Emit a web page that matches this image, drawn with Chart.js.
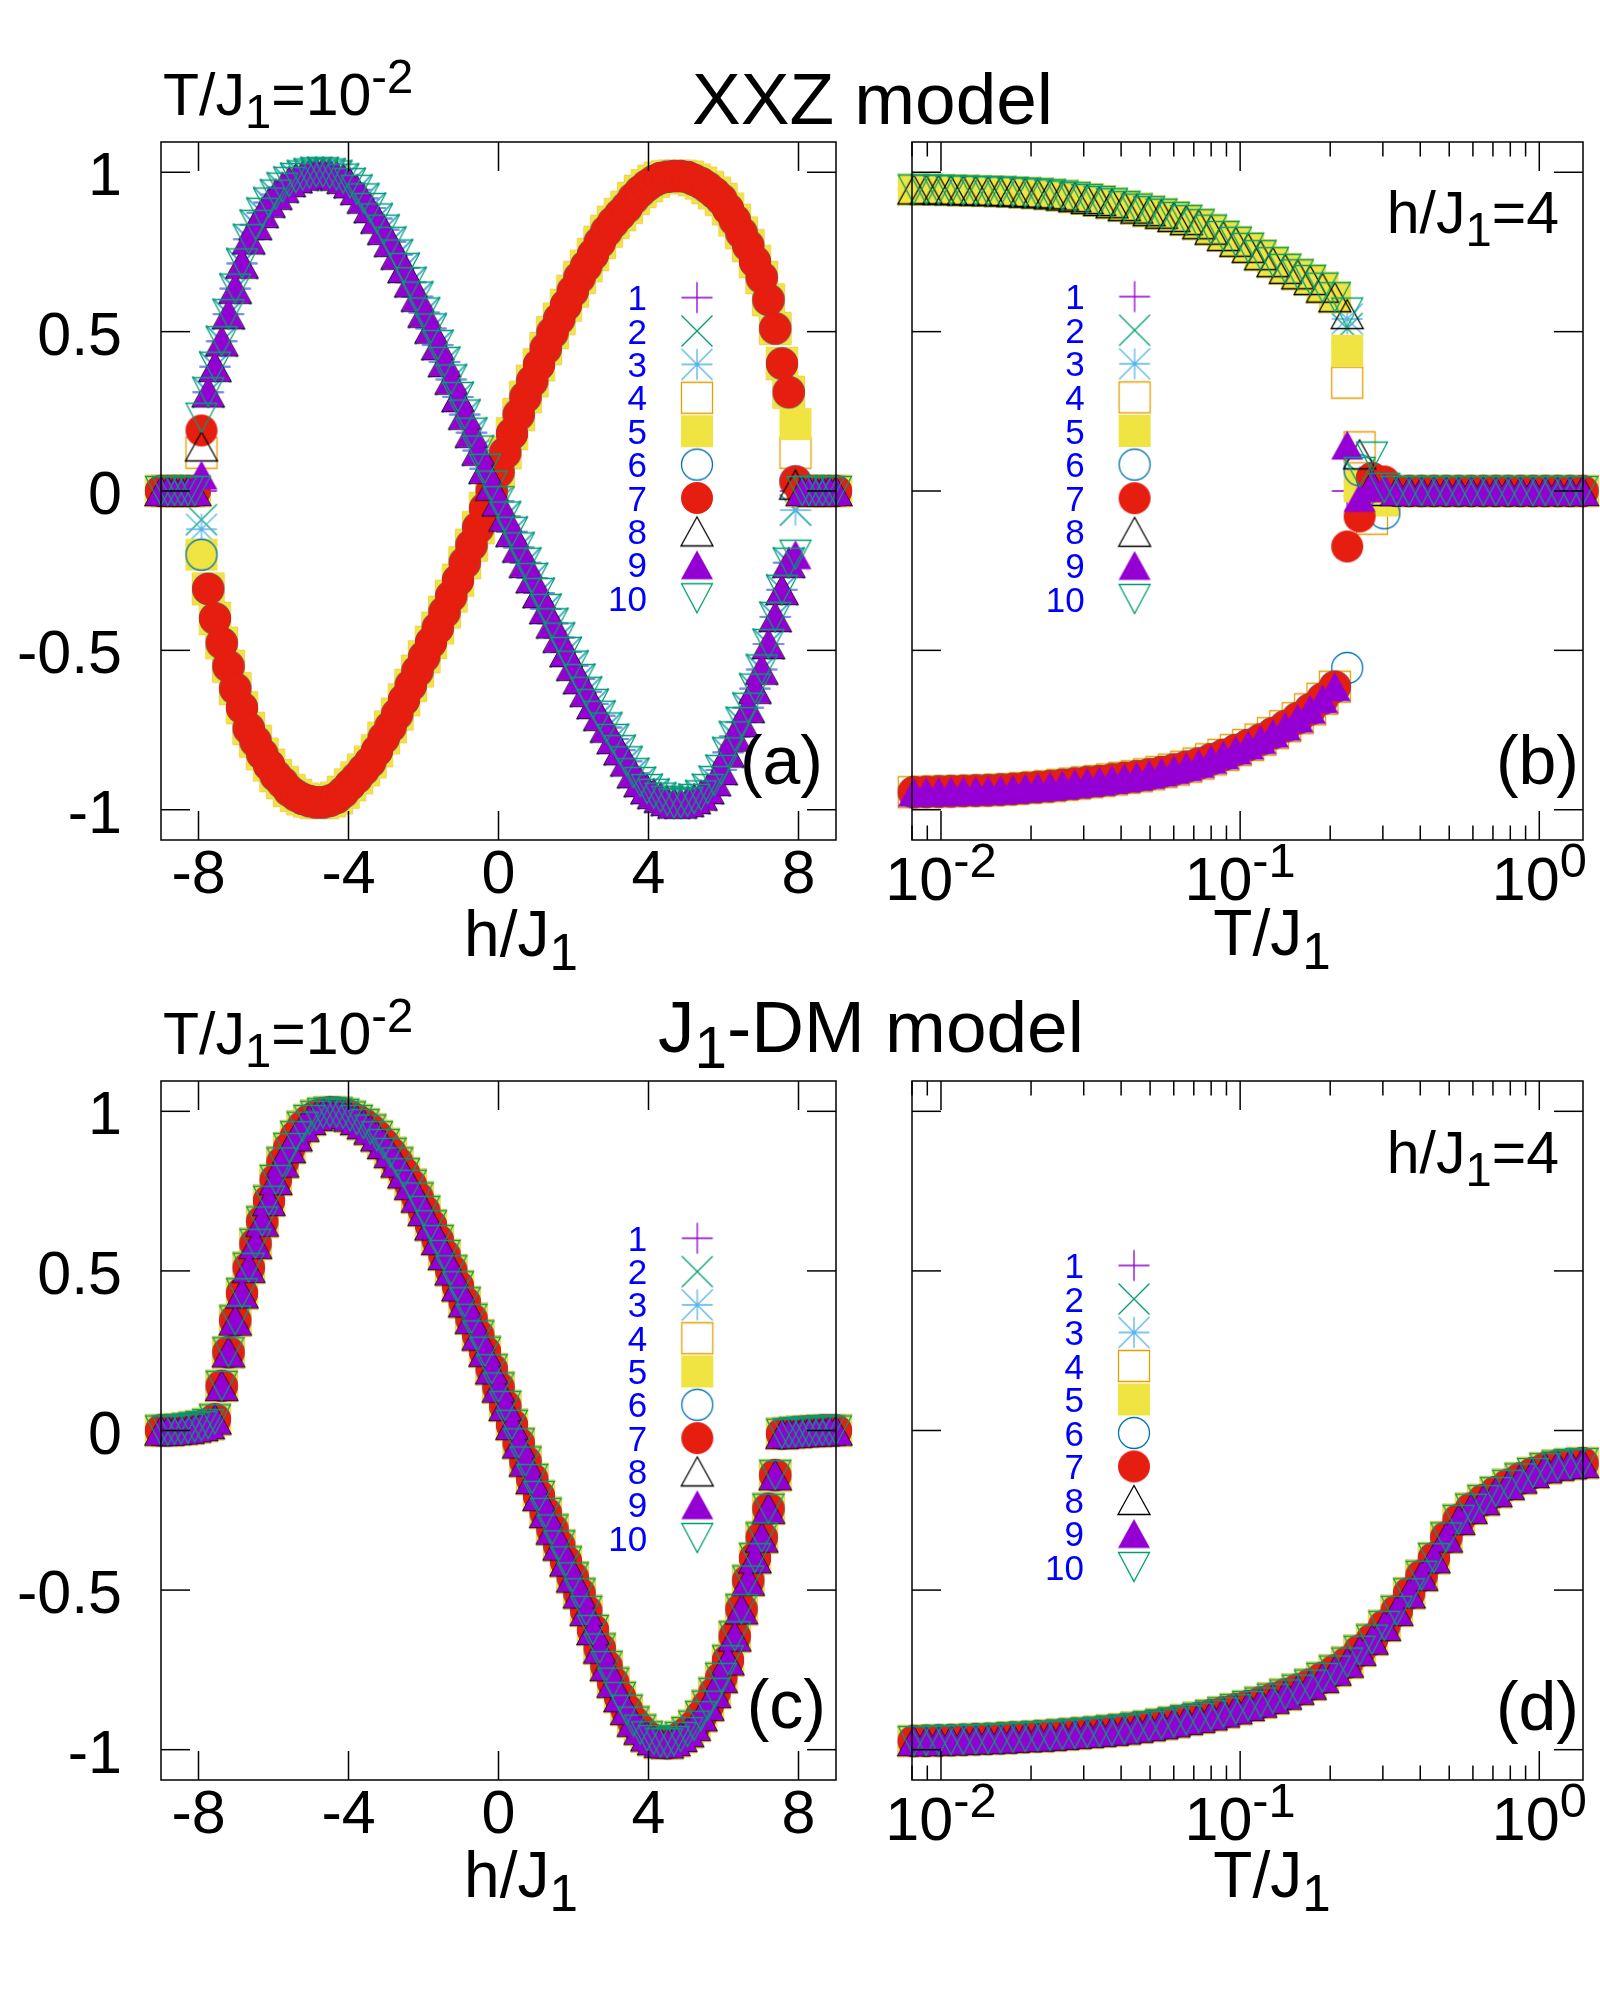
<!DOCTYPE html>
<html>
<head>
<meta charset="utf-8">
<script src="https://cdn.jsdelivr.net/npm/chart.js@4.4.1/dist/chart.umd.min.js"></script>
<style>
  html, body { margin: 0; background: #fff; }
  #wrap { position: relative; width: 1600px; height: 2000px; }
  #wrap canvas { position: absolute; left: 0; top: 0; }
</style>
</head>
<body>
<div id="wrap">
  <canvas id="panelA" width="1600" height="2000"></canvas>
  <canvas id="panelB" width="1600" height="2000"></canvas>
  <canvas id="panelC" width="1600" height="2000"></canvas>
  <canvas id="panelD" width="1600" height="2000"></canvas>
</div>
<script>
// ---- data ----
const seriesLabels = ['1', '2', '3', '4', '5', '6', '7', '8', '9', '10'];

// field grid h/J1 (panels a, c)
const hField = [
  -9.00, -8.82, -8.64, -8.46, -8.28, -8.10, -7.92, -7.74, -7.56, -7.38,
  -7.20, -7.02, -6.84, -6.66, -6.48, -6.30, -6.12, -5.94, -5.76, -5.58,
  -5.40, -5.22, -5.04, -4.86, -4.68, -4.50, -4.32, -4.14, -3.96, -3.78,
  -3.60, -3.42, -3.24, -3.06, -2.88, -2.70, -2.52, -2.34, -2.16, -1.98,
  -1.80, -1.62, -1.44, -1.26, -1.08, -0.90, -0.72, -0.54, -0.36, -0.18,
  0.00, 0.18, 0.36, 0.54, 0.72, 0.90, 1.08, 1.26, 1.44, 1.62,
  1.80, 1.98, 2.16, 2.34, 2.52, 2.70, 2.88, 3.06, 3.24, 3.42,
  3.60, 3.78, 3.96, 4.14, 4.32, 4.50, 4.68, 4.86, 5.04, 5.22,
  5.40, 5.58, 5.76, 5.94, 6.12, 6.30, 6.48, 6.66, 6.84, 7.02,
  7.20, 7.38, 7.56, 7.74, 7.92, 8.10, 8.28, 8.46, 8.64, 8.82,
  9.00
];

// XXZ model, T/J1=1e-2: branch of the red circles
const xxzFieldRed = [
  0, 0, 0, 0, 0, 0, 0.19, -0.307, -0.40, -0.477,
  -0.55, -0.62, -0.68, -0.745, -0.785, -0.825, -0.86, -0.893, -0.915, -0.94,
  -0.955, -0.966, -0.973, -0.977, -0.977, -0.972, -0.963, -0.945, -0.922, -0.90,
  -0.875, -0.85, -0.815, -0.775, -0.74, -0.70, -0.655, -0.61, -0.565, -0.52,
  -0.475, -0.43, -0.38, -0.33, -0.28, -0.225, -0.17, -0.115, -0.055, 0.0,
  0.06, 0.12, 0.18, 0.24, 0.295, 0.345, 0.396, 0.447, 0.497, 0.54,
  0.583, 0.627, 0.67, 0.706, 0.742, 0.78, 0.815, 0.843, 0.867, 0.89,
  0.918, 0.94, 0.958, 0.972, 0.982, 0.986, 0.988, 0.988, 0.985, 0.976,
  0.966, 0.952, 0.935, 0.915, 0.885, 0.85, 0.81, 0.77, 0.72, 0.67,
  0.60, 0.51, 0.40, 0.31, 0.03, 0, 0, 0, 0, 0,
  0
];
// XXZ model, T/J1=1e-2: branch of the purple triangles
const xxzFieldPurple = [
  0, 0, 0, 0, 0, 0, 0.05, 0.31, 0.39, 0.47,
  0.555, 0.635, 0.714, 0.79, 0.835, 0.873, 0.905, 0.93, 0.952, 0.97,
  0.982, 0.99, 0.996, 1.0, 1.0, 0.996, 0.99, 0.98, 0.966, 0.945,
  0.918, 0.888, 0.855, 0.82, 0.782, 0.742, 0.70, 0.655, 0.61, 0.56,
  0.51, 0.458, 0.405, 0.35, 0.295, 0.24, 0.183, 0.127, 0.07, 0.017,
  -0.032, -0.08, -0.128, -0.177, -0.225, -0.273, -0.32, -0.37, -0.415, -0.46,
  -0.505, -0.548, -0.59, -0.63, -0.668, -0.705, -0.742, -0.778, -0.813, -0.848,
  -0.885, -0.913, -0.935, -0.95, -0.962, -0.972, -0.98, -0.98, -0.975, -0.966,
  -0.955, -0.935, -0.91, -0.875, -0.82, -0.77, -0.725, -0.68, -0.62, -0.56,
  -0.48, -0.395, -0.31, -0.225, -0.20, 0, 0, 0, 0, 0,
  0
];
const xxzFieldBranch = ['purple', 'purple', 'purple', 'red', 'red', 'red', 'red', 'purple', 'purple', 'purple'];
// scattered values of series 1..10 at the jumps h/J1 = -7.92 and 7.92
const xxzEdgeLeft = [0.0, -0.09, -0.12, 0.12, -0.20, -0.20, 0.19, 0.14, 0.05, 0.23];
const xxzEdgeRight = [0.0, -0.06, -0.06, 0.12, 0.21, 0.03, 0.03, 0.02, -0.20, -0.20];

// temperature grid T/J1 (panels b, d)
const tempGrid = [
  0.00811, 0.00893, 0.00982, 0.0108, 0.01188, 0.01307, 0.01437, 0.01581, 0.01739, 0.01913,
  0.02104, 0.02315, 0.02546, 0.02801, 0.03081, 0.03389, 0.03728, 0.04101, 0.04511, 0.04962,
  0.05458, 0.06004, 0.06605, 0.07265, 0.07991, 0.0879, 0.0967, 0.10637, 0.117, 0.1287,
  0.14157, 0.15573, 0.1713, 0.18843, 0.20727, 0.228, 0.2508, 0.27588, 0.30347, 0.33381,
  0.36719, 0.40391, 0.44431, 0.48874, 0.53761, 0.59137, 0.65051, 0.71556, 0.78712, 0.86583,
  0.95241, 1.04765, 1.15242, 1.26766, 1.39443
];
// XXZ model, h/J1=4
const xxzTempUpper = [
  0.946, 0.946, 0.945, 0.944, 0.943, 0.942, 0.941, 0.94, 0.938, 0.936,
  0.934, 0.931, 0.927, 0.922, 0.916, 0.91, 0.903, 0.894, 0.886, 0.878,
  0.87, 0.86, 0.85, 0.837, 0.82, 0.80, 0.782, 0.763, 0.74, 0.718,
  0.697, 0.68, 0.662, 0.638, 0.608, 0.55, 0.05, 0.02, 0, 0,
  0, 0, 0, 0, 0, 0, 0, 0, 0, 0,
  0, 0, 0, 0, 0
];
const xxzTempLower = [
  -0.945, -0.944, -0.943, -0.942, -0.941, -0.94, -0.939, -0.937, -0.935, -0.932,
  -0.929, -0.926, -0.922, -0.918, -0.914, -0.91, -0.905, -0.90, -0.895, -0.889,
  -0.882, -0.874, -0.865, -0.855, -0.842, -0.828, -0.813, -0.797, -0.78, -0.76,
  -0.738, -0.713, -0.685, -0.652, -0.614, -0.555, -0.08, 0.04, 0.03, 0,
  0, 0, 0, 0, 0, 0, 0, 0, 0, 0,
  0, 0, 0, 0, 0
];
const xxzTempBranch = ['upper', 'upper', 'upper', 'lower', 'upper', 'lower', 'lower', 'upper', 'lower', 'upper'];
// series 1..10 around the transition
const xxzTcTemps = [0.228, 0.2508, 0.27588, 0.30347];
const xxzAt0228 = [0.0, 0.51, 0.54, 0.34, 0.44, -0.555, -0.174, 0.555, 0.144, 0.56];
const xxzAt0251 = [0.0, 0.05, 0.03, 0.137, 0.015, 0.065, -0.08, 0.115, -0.02, 0.06];
const xxzAt0276 = [0.0, 0.02, 0.01, -0.087, -0.02, 0.04, 0.04, 0.02, 0.02, 0.108];
const xxzAt0303 = [0.0, 0.0, 0.0, -0.01, -0.03, -0.07, 0.03, 0.0, 0.01, 0.01];

// J1-DM model, T/J1=1e-2 (all ten series coincide)
const dmField = [
  0, 0, 0.002, 0.004, 0.006, 0.01, 0.014, 0.02, 0.035, 0.14,
  0.245, 0.345, 0.43, 0.51, 0.585, 0.655, 0.72, 0.785, 0.84, 0.885,
  0.922, 0.952, 0.973, 0.986, 0.994, 0.997, 0.996, 0.992, 0.984, 0.973,
  0.96, 0.943, 0.922, 0.898, 0.87, 0.84, 0.806, 0.77, 0.73, 0.688,
  0.643, 0.597, 0.55, 0.502, 0.452, 0.402, 0.35, 0.298, 0.247, 0.192,
  0.135, 0.077, 0.018, -0.04, -0.097, -0.152, -0.205, -0.258, -0.31, -0.36,
  -0.41, -0.46, -0.51, -0.565, -0.625, -0.683, -0.738, -0.79, -0.835, -0.875,
  -0.912, -0.937, -0.958, -0.97, -0.978, -0.98, -0.973, -0.96, -0.945, -0.925,
  -0.895, -0.862, -0.822, -0.775, -0.72, -0.645, -0.56, -0.47, -0.40, -0.335,
  -0.245, -0.14, -0.01, -0.008, -0.006, -0.004, -0.003, -0.002, 0, 0,
  0
];
// J1-DM model, h/J1=4 (all ten series coincide)
const dmTemp = [
  -0.973, -0.972, -0.971, -0.97, -0.969, -0.967, -0.966, -0.964, -0.962, -0.96,
  -0.958, -0.956, -0.953, -0.95, -0.947, -0.944, -0.94, -0.936, -0.931, -0.926,
  -0.92, -0.914, -0.907, -0.90, -0.892, -0.883, -0.873, -0.863, -0.852, -0.84,
  -0.827, -0.812, -0.796, -0.775, -0.752, -0.727, -0.69, -0.655, -0.612, -0.565,
  -0.51, -0.455, -0.40, -0.335, -0.28, -0.245, -0.218, -0.193, -0.17, -0.15,
  -0.133, -0.118, -0.11, -0.105, -0.102
];

const yTickValues = [-1, -0.5, 0, 0.5, 1];
const hTickValues = [-8, -4, 0, 4, 8];
const tTickValues = [0.01, 0.1, 1];
const tMinorValues = [0.008, 0.009, 0.02, 0.03, 0.04, 0.05, 0.06, 0.07, 0.08, 0.09,
  0.2, 0.3, 0.4, 0.5, 0.6, 0.7, 0.8, 0.9];

// ---- styles ----
const FONT = '"Liberation Sans", Arial, sans-serif';
const markerKinds = ['plus', 'cross', 'star', 'box', 'boxFill', 'circle', 'circleFill', 'tri', 'triFill', 'triDown'];
const markerColors = ['#9400d3', '#009e73', '#56b4e9', '#e69f00', '#f0e442', '#0072b2', '#e51e10', '#000000', '#9400d3', '#009e73'];

function makeMarker(kind, color) {
  const c = document.createElement('canvas');
  c.width = 40; c.height = 40;
  const g = c.getContext('2d');
  g.translate(20, 20);
  g.strokeStyle = color;
  g.fillStyle = color;
  g.lineWidth = 1.3;
  const r = 15.5;
  g.beginPath();
  if (kind === 'plus' || kind === 'star') {
    g.moveTo(-r, 0); g.lineTo(r, 0); g.moveTo(0, -r); g.lineTo(0, r);
  }
  if (kind === 'cross' || kind === 'star') {
    g.moveTo(-r, -r); g.lineTo(r, r); g.moveTo(-r, r); g.lineTo(r, -r);
  }
  if (kind === 'box') g.rect(-r, -r, 2 * r, 2 * r);
  if (kind === 'boxFill') g.rect(-16, -16, 32, 32);
  if (kind === 'circle') g.arc(0, 0, r, 0, 2 * Math.PI);
  if (kind === 'circleFill') g.arc(0, 0, 16, 0, 2 * Math.PI);
  if (kind === 'tri' || kind === 'triFill') {
    g.moveTo(0, -14.5); g.lineTo(16, 14.5); g.lineTo(-16, 14.5); g.closePath();
  }
  if (kind === 'triDown') {
    g.moveTo(0, 14.5); g.lineTo(r, -14.5); g.lineTo(-r, -14.5); g.closePath();
  }
  if (kind.endsWith('Fill')) g.fill(); else g.stroke();
  return c;
}
const markers = markerKinds.map((k, i) => makeMarker(k, markerColors[i]));

function drawRich(ctx, parts, x, y, size, align, color) {
  const segs = parts.map(([t, m]) => {
    const fs = m ? size * 0.8 : size;
    ctx.font = fs + 'px ' + FONT;
    return { t, m, fs, w: ctx.measureText(t).width };
  });
  const total = segs.reduce((s, p) => s + p.w, 0);
  let cx = align === 'center' ? x - total / 2 : align === 'right' ? x - total : x;
  ctx.fillStyle = color || '#000';
  ctx.textAlign = 'left';
  ctx.textBaseline = 'alphabetic';
  segs.forEach(p => {
    ctx.font = p.fs + 'px ' + FONT;
    const dy = p.m === 'sup' ? -0.38 * size : p.m === 'sub' ? 0.22 * size : 0;
    ctx.fillText(p.t, cx, y + dy);
    cx += p.w;
  });
}

// frame, mirrored inward ticks, tick labels, key and annotations
const gnuplotFrame = {
  id: 'gnuplotFrame',
  afterDatasetsDraw(chart, args, opts) {
    const ctx = chart.ctx;
    const a = chart.chartArea;
    const xs = chart.scales.x, ys = chart.scales.y;
    const line = (x1, y1, x2, y2) => { ctx.beginPath(); ctx.moveTo(x1, y1); ctx.lineTo(x2, y2); ctx.stroke(); };
    ctx.save();
    ctx.strokeStyle = '#000';
    ctx.lineWidth = 1.5;
    ctx.strokeRect(a.left, a.top, a.right - a.left, a.bottom - a.top);
    const major = 29, minor = 14.5;
    yTickValues.forEach(v => {
      const y = ys.getPixelForValue(v);
      line(a.left, y, a.left + major, y);
      line(a.right, y, a.right - major, y);
      if (opts.yLabels) drawRich(ctx, [[String(v), '']], a.left - 39, y + 23, 61, 'right');
    });
    opts.xTicks.forEach(v => {
      const x = xs.getPixelForValue(v);
      line(x, a.bottom, x, a.bottom - major);
      line(x, a.top, x, a.top + major);
      if (opts.log) {
        drawRich(ctx, [['10', ''], [String(Math.round(Math.log10(v))), 'sup']], x, a.bottom + 60, 61, 'center');
      } else {
        drawRich(ctx, [[String(v), '']], x, a.bottom + 53, 61, 'center');
      }
    });
    (opts.xMinor || []).forEach(v => {
      const x = xs.getPixelForValue(v);
      line(x, a.bottom, x, a.bottom - minor);
      line(x, a.top, x, a.top + minor);
    });
    // key
    const k = opts.key;
    seriesLabels.forEach((lab, i) => {
      const y = k.y0 + k.dy * i;
      drawRich(ctx, [[lab, '']], k.textRight, y + 12.5, 35, 'right', '#0000ff');
      ctx.drawImage(markers[i], k.markerX - 20, y - 20);
    });
    opts.texts.forEach(t => drawRich(ctx, t.parts, t.x, t.y, t.size, t.align));
    ctx.restore();
  }
};

function makePanel(id, cfg, datasetsData) {
  const f = cfg.frame;
  return new Chart(document.getElementById(id), {
    type: 'scatter',
    data: {
      datasets: datasetsData.map((pts, i) => ({
        label: seriesLabels[i],
        data: pts,
        pointStyle: markers[i],
        pointRadius: 16,
        pointHoverRadius: 16,
        showLine: false,
        clip: false,
        order: 10 - i
      }))
    },
    options: {
      responsive: false,
      animation: false,
      devicePixelRatio: 1,
      events: [],
      layout: { padding: { left: f.left, top: f.top, right: 1600 - f.right, bottom: 2000 - f.bottom } },
      scales: {
        x: {
          type: cfg.log ? 'logarithmic' : 'linear',
          min: cfg.xMin, max: cfg.xMax,
          ticks: { display: false },
          grid: { display: false, drawTicks: false },
          border: { display: false }
        },
        y: {
          type: 'linear',
          min: -1.095, max: 1.095,
          ticks: { display: false },
          grid: { display: false, drawTicks: false },
          border: { display: false }
        }
      },
      plugins: {
        legend: { display: false },
        tooltip: { enabled: false },
        gnuplotFrame: cfg
      }
    },
    plugins: [gnuplotFrame]
  });
}

const edgeL = hField.indexOf(-7.92), edgeR = hField.indexOf(7.92);
const xxzFieldSets = seriesLabels.map((_, s) => {
  const base = xxzFieldBranch[s] === 'red' ? xxzFieldRed : xxzFieldPurple;
  return hField.map((h, i) => ({ x: h, y: i === edgeL ? xxzEdgeLeft[s] : i === edgeR ? xxzEdgeRight[s] : base[i] }));
});
const tcColumns = [xxzAt0228, xxzAt0251, xxzAt0276, xxzAt0303];
const xxzTempSets = seriesLabels.map((_, s) => {
  const base = xxzTempBranch[s] === 'upper' ? xxzTempUpper : xxzTempLower;
  return tempGrid.map((t, i) => {
    const c = xxzTcTemps.indexOf(t);
    return { x: t, y: c >= 0 ? tcColumns[c][s] : base[i] };
  });
});
const dmFieldSets = seriesLabels.map(() => hField.map((h, i) => ({ x: h, y: dmField[i] })));
const dmTempSets = seriesLabels.map(() => tempGrid.map((t, i) => ({ x: t, y: dmTemp[i] })));

const tLabel = [['T/J', ''], ['1', 'sub'], ['=10', ''], ['-2', 'sup']];
const hLabel = [['h/J', ''], ['1', 'sub'], ['=4', '']];

makePanel('panelA', {
  frame: { left: 161, top: 142, right: 836, bottom: 840 },
  log: false, xMin: -9, xMax: 9, xTicks: hTickValues, yLabels: true,
  key: { y0: 297.6, dy: 33.4, textRight: 647, markerX: 697 },
  texts: [
    { parts: tLabel, x: 163, y: 115, size: 59, align: 'left' },
    { parts: [['XXZ model', '']], x: 692, y: 124, size: 73, align: 'left' },
    { parts: [['h/J', ''], ['1', 'sub']], x: 521, y: 956, size: 64, align: 'center' },
    { parts: [['(a)', '']], x: 823, y: 784, size: 68, align: 'right' }
  ]
}, xxzFieldSets);

makePanel('panelB', {
  frame: { left: 912, top: 142, right: 1588, bottom: 840 },
  log: true, xMin: 0.008, xMax: 1.4, xTicks: tTickValues, xMinor: tMinorValues, yLabels: false,
  key: { y0: 296.6, dy: 33.6, textRight: 1084.6, markerX: 1134.6 },
  texts: [
    { parts: hLabel, x: 1559, y: 233, size: 59, align: 'right' },
    { parts: [['T/J', ''], ['1', 'sub']], x: 1272, y: 955, size: 64, align: 'center' },
    { parts: [['(b)', '']], x: 1579, y: 784, size: 68, align: 'right' }
  ]
}, xxzTempSets);

makePanel('panelC', {
  frame: { left: 161, top: 1081, right: 836, bottom: 1780 },
  log: false, xMin: -9, xMax: 9, xTicks: hTickValues, yLabels: true,
  key: { y0: 1238.3, dy: 33.3, textRight: 647.3, markerX: 697.3 },
  texts: [
    { parts: tLabel, x: 163, y: 1054, size: 59, align: 'left' },
    { parts: [['J', ''], ['1', 'sub'], ['-DM model', '']], x: 658, y: 1052, size: 73, align: 'left' },
    { parts: [['h/J', ''], ['1', 'sub']], x: 521, y: 1897, size: 64, align: 'center' },
    { parts: [['(c)', '']], x: 826, y: 1728, size: 68, align: 'right' }
  ]
}, dmFieldSets);

makePanel('panelD', {
  frame: { left: 912, top: 1081, right: 1588, bottom: 1780 },
  log: true, xMin: 0.008, xMax: 1.4, xTicks: tTickValues, xMinor: tMinorValues, yLabels: false,
  key: { y0: 1265.5, dy: 33.5, textRight: 1084, markerX: 1134 },
  texts: [
    { parts: hLabel, x: 1559, y: 1173, size: 59, align: 'right' },
    { parts: [['T/J', ''], ['1', 'sub']], x: 1272, y: 1897, size: 64, align: 'center' },
    { parts: [['(d)', '']], x: 1579, y: 1730, size: 68, align: 'right' }
  ]
}, dmTempSets);
</script>
</body>
</html>
